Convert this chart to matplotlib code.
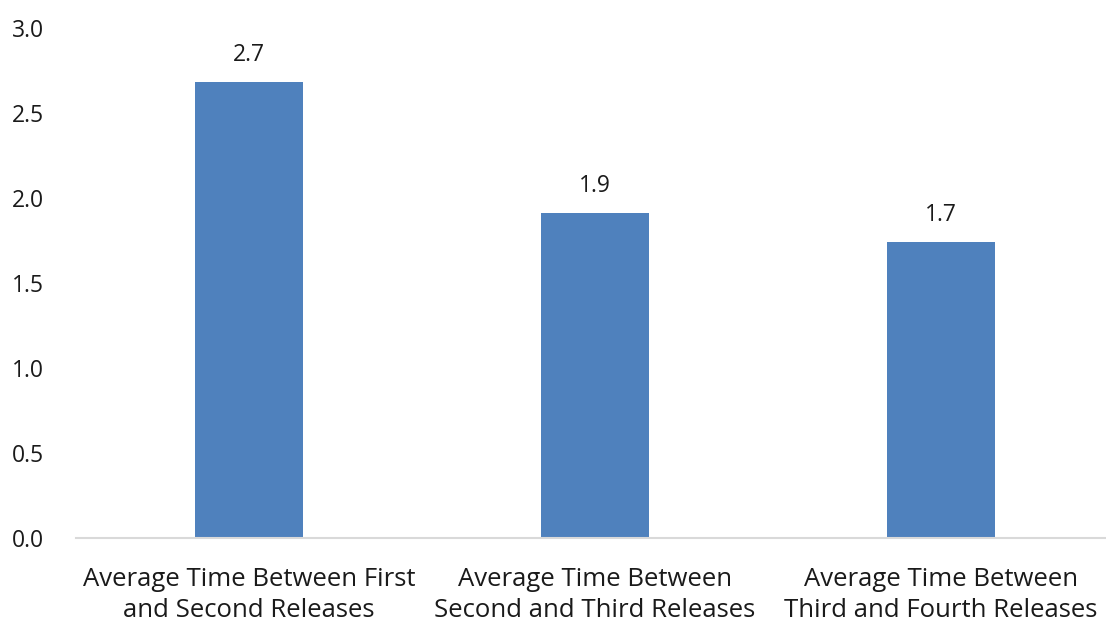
import matplotlib
matplotlib.use('Agg')
from matplotlib import pyplot as plt

plt.rcParams['font.family'] = ['Open Sans', 'DejaVu Sans']

# 数据
categories = ['Average Time Between First\nand Second Releases',
              'Average Time Between\nSecond and Third Releases',
              'Average Time Between\nThird and Fourth Releases']
values = [2.68, 1.91, 1.74]
yticks = [0.0, 0.5, 1.0, 1.5, 2.0, 2.5, 3.0]

fig = plt.figure(figsize=(11.06, 6.24), dpi=100)
ax = fig.add_axes([76 / 1106, 86 / 624, 1030 / 1106, 510 / 624])

x = list(range(len(categories)))
bars = ax.bar(x, values, width=0.31, color='#4f81bd', zorder=2)

# 柱顶数值标签
for xi, v in zip(x, values):
    ax.text(xi, v + 0.09, f'{v:.1f}', ha='center', va='bottom',
            fontsize=16.5, color='#1a1a1a')

ax.set_xlim(-0.5, -0.5 + 1030 / 346)
ax.set_ylim(0, 3.0)
ax.set_yticks(yticks)
ax.set_yticklabels([f'{t:.1f}' for t in yticks], fontsize=16.5, color='#1a1a1a')
ax.set_xticks(x)
ax.set_xticklabels(categories, fontsize=18.5, color='#1a1a1a', linespacing=1.3)

for side in ['top', 'right', 'left']:
    ax.spines[side].set_visible(False)
ax.spines['bottom'].set_color('#d9d9d9')
ax.spines['bottom'].set_linewidth(1.5)
ax.tick_params(axis='both', length=0)
ax.tick_params(axis='y', pad=46)
ax.tick_params(axis='x', pad=21)
for lbl in ax.get_yticklabels():
    lbl.set_horizontalalignment('left')

plt.savefig('out.png', dpi=100)
